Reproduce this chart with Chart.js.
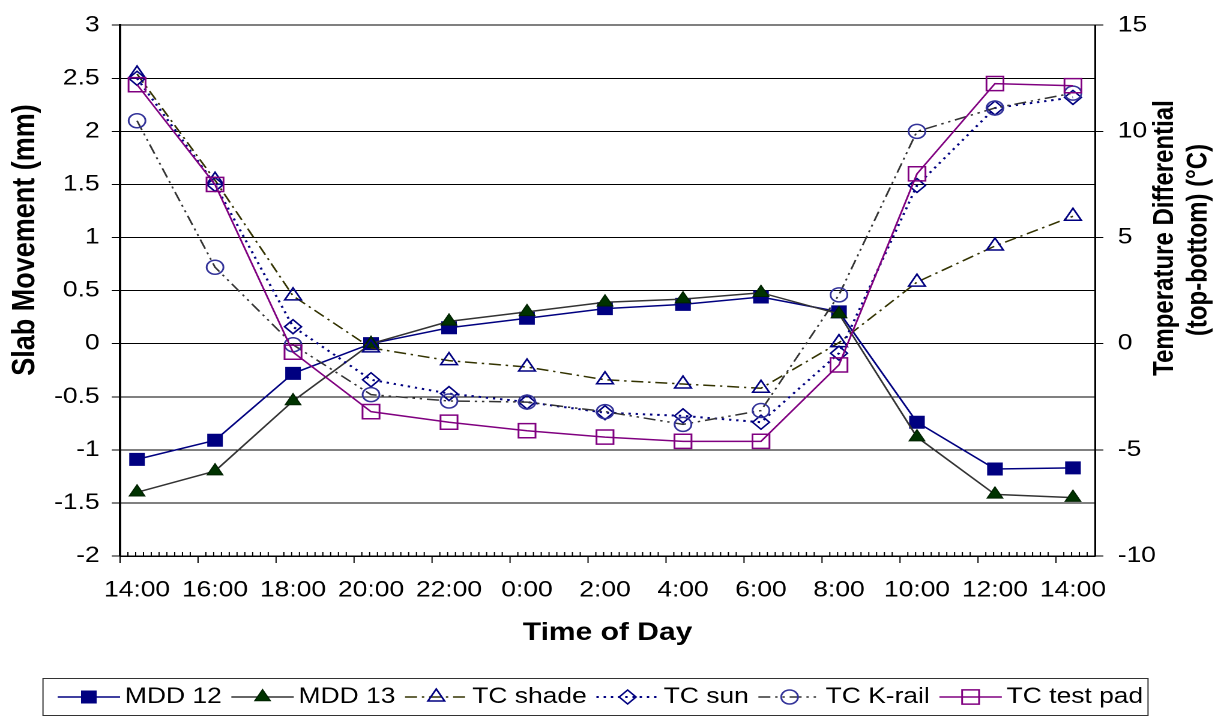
<!DOCTYPE html>
<html>
<head>
<meta charset="utf-8">
<script src="https://cdn.jsdelivr.net/npm/chart.js@4.4.1/dist/chart.umd.min.js"></script>
<style>
  html, body { margin: 0; padding: 0; background: #fff; overflow: hidden; }
  /* the reference is a horizontally stretched picture, so draw narrow and stretch */
  #wrap { width: 1022px; height: 717px; transform: scaleX(1.2006); transform-origin: 0 0; }
  canvas { display: block; }
</style>
</head>
<body>
<div id="wrap"><canvas id="chart" width="1022" height="717" style="width:1022px;height:717px"></canvas></div>
<script>
  const timeLabels = ["14:00", "16:00", "18:00", "20:00", "22:00", "0:00", "2:00", "4:00", "6:00", "8:00", "10:00", "12:00", "14:00"];

  // slab movement, mm (left axis)
  const mdd12 = [-1.09, -0.91, -0.28, 0.0, 0.15, 0.24, 0.33, 0.37, 0.44, 0.30, -0.74, -1.18, -1.17];
  const mdd13 = [-1.40, -1.20, -0.54, 0.0, 0.21, 0.30, 0.39, 0.42, 0.48, 0.28, -0.88, -1.42, -1.45];

  // temperature differential, °C (right axis)
  const tcShade = [12.7, 7.7, 2.25, -0.2, -0.8, -1.1, -1.7, -1.9, -2.1, 0.05, 2.9, 4.6, 6.0];
  const tcSun = [12.5, 7.5, 0.8, -1.7, -2.35, -2.75, -3.25, -3.4, -3.7, -0.45, 7.45, 11.1, 11.6];
  const tcKrail = [10.5, 3.6, -0.05, -2.4, -2.7, -2.75, -3.2, -3.8, -3.15, 2.3, 10.0, 11.1, 11.8];
  const tcTestPad = [12.2, 7.5, -0.4, -3.2, -3.7, -4.1, -4.4, -4.6, -4.6, -1.0, 8.0, 12.25, 12.15];

  const FONT = '"Liberation Sans", Arial, sans-serif';
  const pts = (arr) => arr.map((v, i) => ({ x: i, y: v }));
  const NONE = "rgba(0,0,0,0)";

  const datasets = [
    { label: "MDD 12", data: pts(mdd12), yAxisID: "y", borderColor: "#000080", borderWidth: 1.5,
      pointStyle: "rect", pointRadius: 8.5, pointBackgroundColor: "#000080", pointBorderColor: "#000080", pointBorderWidth: 1, order: 6 },
    { label: "MDD 13", data: pts(mdd13), yAxisID: "y", borderColor: "#333333", borderWidth: 1.5,
      pointStyle: "triangle", pointRadius: 7.5, pointBackgroundColor: "#003300", pointBorderColor: "#002200", pointBorderWidth: 1, order: 5 },
    { label: "TC shade", data: pts(tcShade), yAxisID: "y1", borderColor: "#333300", borderWidth: 1.5, borderDash: [10, 4, 2, 4],
      pointStyle: "triangle", pointRadius: 8, pointBackgroundColor: NONE, pointBorderColor: "#000080", pointBorderWidth: 1.5, order: 4 },
    { label: "TC sun", data: pts(tcSun), yAxisID: "y1", borderColor: "#000080", borderWidth: 2, borderDash: [2, 4],
      pointStyle: "rectRot", pointRadius: 7, pointBackgroundColor: NONE, pointBorderColor: "#000080", pointBorderWidth: 1.5, order: 3 },
    { label: "TC K-rail", data: pts(tcKrail), yAxisID: "y1", borderColor: "#333333", borderWidth: 1.5, borderDash: [10, 4, 2, 4, 2, 4],
      pointStyle: "circle", pointRadius: 7, pointBackgroundColor: NONE, pointBorderColor: "#333399", pointBorderWidth: 1.5, order: 2 },
    { label: "TC test pad", data: pts(tcTestPad), yAxisID: "y1", borderColor: "#800080", borderWidth: 1.5,
      pointStyle: "rect", pointRadius: 10, pointBackgroundColor: NONE, pointBorderColor: "#800080", pointBorderWidth: 1.5, order: 1 },
  ];

  // minor/major x tick marks, rotated y titles, legend
  const extras = {
    id: "extras",
    afterDraw(chart) {
      const { ctx, chartArea: a, scales: { x } } = chart;
      ctx.save();
      ctx.strokeStyle = "#000";
      ctx.lineWidth = 1;
      for (let k = 0; k <= 125; k++) {
        const px = x.getPixelForValue(x.min + k * 0.1);
        ctx.beginPath();
        if (k % 10 === 0) { ctx.moveTo(px, a.bottom); ctx.lineTo(px, a.bottom + 7); }
        else { ctx.moveTo(px, a.bottom); ctx.lineTo(px, a.bottom - 4); }
        ctx.stroke();
      }

      ctx.fillStyle = "#000";
      ctx.textAlign = "center";
      ctx.textBaseline = "middle";
      const vtext = (txt, cx, cy) => {
        ctx.save(); ctx.translate(cx, cy); ctx.rotate(-Math.PI / 2); ctx.fillText(txt, 0, 0); ctx.restore();
      };
      ctx.font = "bold 27px " + FONT;
      vtext("Slab Movement (mm)", 21, 240);
      ctx.font = "bold 24px " + FONT;
      vtext("Temperature Differential", 970.5, 238);
      vtext("(top-bottom) (°C)", 998.5, 240);

      // legend
      ctx.strokeStyle = "#333";
      ctx.lineWidth = 1;
      ctx.strokeRect(35.8, 678.5, 920.4, 37);
      ctx.font = "22px " + FONT;
      ctx.textAlign = "left";
      const ly = 697;
      let lx = 48;
      chart.data.datasets.forEach((ds) => {
        ctx.save();
        ctx.strokeStyle = ds.borderColor;
        ctx.lineWidth = ds.borderWidth;
        ctx.setLineDash(ds.borderDash || []);
        ctx.beginPath(); ctx.moveTo(lx, ly); ctx.lineTo(lx + 52, ly); ctx.stroke();
        ctx.setLineDash([]);
        ctx.fillStyle = ds.pointBackgroundColor;
        ctx.strokeStyle = ds.pointBorderColor;
        ctx.lineWidth = ds.pointBorderWidth;
        Chart.helpers.drawPoint(ctx, { pointStyle: ds.pointStyle, radius: ds.pointRadius, rotation: 0, borderWidth: ds.pointBorderWidth }, lx + 26, ly);
        ctx.restore();
        ctx.fillStyle = "#000";
        ctx.fillText(ds.label, lx + 56, ly);
        lx += 56 + ctx.measureText(ds.label).width + 8;
      });
      ctx.restore();
    },
  };

  new Chart(document.getElementById("chart"), {
    type: "line",
    data: { datasets },
    plugins: [extras],
    options: {
      responsive: false,
      devicePixelRatio: 2,
      animation: false,
      layout: { padding: { top: 17, bottom: 49, left: 0, right: 0 } },
      elements: { line: { tension: 0, fill: false } },
      plugins: { legend: { display: false }, tooltip: { enabled: false } },
      scales: {
        x: {
          type: "linear",
          min: -0.2177,
          max: 12.282,
          afterBuildTicks: (s) => { s.ticks = timeLabels.map((_, i) => ({ value: i })); },
          afterFit: (s) => { s.height = 112; },
          ticks: {
            autoSkip: false, maxRotation: 0, padding: 21, color: "#000",
            font: { family: FONT, size: 22 },
            callback: (v) => timeLabels[v],
          },
          grid: { display: false, drawTicks: false },
          border: { display: true, color: "#000", width: 1.5 },
          title: {
            display: true, text: "Time of Day", color: "#000",
            font: { family: FONT, size: 25, weight: "bold", lineHeight: 1.2 },
            padding: { top: 0, bottom: 20 },
          },
        },
        y: {
          position: "left",
          min: -2, max: 3,
          afterFit: (s) => { s.width = 100; },
          ticks: {
            stepSize: 0.5, padding: 10, color: "#000",
            font: { family: FONT, size: 22 },
            callback: (v) => String(+v.toFixed(1)),
          },
          grid: { color: "#000", lineWidth: 1, drawTicks: true, tickLength: 7, tickColor: "#000" },
          border: { display: true, color: "#000", width: 2 },
        },
        y1: {
          position: "right",
          min: -10, max: 15,
          afterFit: (s) => { s.width = 110; },
          ticks: {
            stepSize: 5, padding: 12, color: "#000",
            font: { family: FONT, size: 22 },
          },
          grid: { drawOnChartArea: false, drawTicks: true, tickLength: 7, color: "#000" },
          border: { display: true, color: "#000", width: 1.5 },
        },
      },
    },
  });
</script>
</body>
</html>
